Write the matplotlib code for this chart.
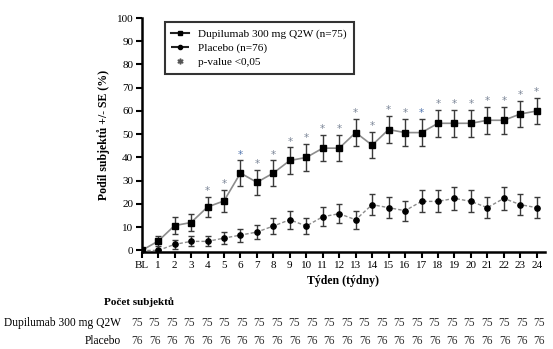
import numpy as np
import matplotlib.pyplot as plt
from matplotlib.lines import Line2D

plt.rcParams['font.family'] = ['Liberation Serif', 'DejaVu Serif']

weeks = ['BL'] + [str(i) for i in range(1, 25)]

dupi = [0, 4.0, 10.7, 12.0, 18.7, 21.3, 33.3, 29.3, 33.3, 38.7, 40.0, 44.0, 44.0,
        50.7, 45.3, 52.0, 50.7, 50.7, 54.7, 54.7, 54.7, 56.0, 56.0, 58.7, 60.0]
dupi_se = [0, 2.3, 3.6, 3.8, 4.5, 4.7, 5.4, 5.3, 5.4, 5.6, 5.7, 5.7, 5.7,
           5.8, 5.7, 5.8, 5.8, 5.8, 5.7, 5.7, 5.7, 5.7, 5.7, 5.7, 5.7]
plac = [0, 0, 2.6, 3.9, 3.9, 5.3, 6.6, 7.9, 10.5, 13.2, 10.5, 14.5, 15.8,
        13.2, 19.7, 18.4, 17.1, 21.1, 21.1, 22.4, 21.1, 18.4, 22.4, 19.7, 18.4]
plac_se = [0, 0, 1.8, 2.2, 2.2, 2.6, 2.8, 3.1, 3.5, 3.9, 3.5, 4.0, 4.2,
           3.9, 4.6, 4.4, 4.3, 4.7, 4.7, 4.8, 4.7, 4.4, 4.8, 4.6, 4.4]
signif = [4, 5, 6, 7, 8, 9, 10, 11, 12, 13, 14, 15, 16, 17, 18, 19, 20, 21, 22, 23, 24]

n_dupi = [75] * 24
n_plac = [76] * 24

x = np.arange(len(weeks))

fig = plt.figure(figsize=(5.53, 3.49), dpi=100)
ax = fig.add_axes([0.2562, 0.2771, 0.7293, 0.6713])

ax.errorbar(x, dupi, yerr=dupi_se, fmt='none', ecolor='#3a3a3a', elinewidth=1,
            capsize=2.5, capthick=1, zorder=2)
ax.errorbar(x, plac, yerr=plac_se, fmt='none', ecolor='#3a3a3a', elinewidth=1,
            capsize=2.5, capthick=1, zorder=2)
ax.plot(x, dupi, '-', color='#8c8c8c', lw=1.2, zorder=3)
ax.plot(x, dupi, 's', color='black', ms=5, zorder=4)
ax.plot(x, plac, '--', color='#8c8c8c', lw=1.0, dashes=(2.5, 1.5), zorder=3)
ax.plot(x, plac, 'o', color='black', ms=3.8, zorder=4)

for w in signif:
    col = '#5578b0' if w in (6, 17) else '#7d8798'
    ax.text(w, dupi[w] + dupi_se[w] + 0.4, '*', ha='center', va='bottom',
            fontsize=7.5, color=col, family='DejaVu Sans')

ax.set_xlim(0, 24.5)
ax.set_ylim(-0.8, 100)
ax.set_xticks(x)
ax.set_xticklabels(weeks)
ax.set_yticks(np.arange(0, 101, 10))
ax.tick_params(axis='both', direction='out', length=4, width=1.5, labelsize=8, pad=2)
for s in ['top', 'right']:
    ax.spines[s].set_visible(False)
for s in ['left', 'bottom']:
    ax.spines[s].set_linewidth(1.8)

ax.set_ylabel('Podíl subjektů +/- SE (%)', fontsize=8.5, fontweight='bold', labelpad=5)
ax.set_xlabel('Týden (týdny)', fontsize=8.5, fontweight='bold', labelpad=4)

handles = [
    Line2D([], [], color='#222222', ls='-', marker='s', mfc='black', mec='black', ms=3.5),
    Line2D([], [], color='#222222', ls='--', marker='o', mfc='black', mec='black', ms=3),
    Line2D([], [], color='#555555', ls='none', marker='$*$', ms=3.5),
]
leg = ax.legend(handles, ['Dupilumab 300 mg Q2W (n=75)', 'Placebo (n=76)', 'p-value <0,05'],
                loc='upper left', bbox_to_anchor=(0.043, 1.005), fontsize=8.1,
                fancybox=False, edgecolor='black', handlelength=1.6,
                labelspacing=0.35, borderpad=0.6, handletextpad=0.8)
leg.get_frame().set_linewidth(1.5)

# subject counts table
fig.text(139 / 553, 1 - 302 / 349, 'Počet subjektů', ha='center', va='center',
         fontsize=8, fontweight='bold')
fig.text(121 / 553, 1 - 323 / 349, 'Dupilumab 300 mg Q2W', ha='right', va='center', fontsize=8.3)
fig.text(121 / 553, 1 - 341 / 349, 'Placebo', ha='right', va='center', fontsize=8.3)
for i, (a, b) in enumerate(zip(n_dupi, n_plac)):
    xf = (137 + i * 17.5) / 553
    fig.text(xf, 1 - 323 / 349, str(a), ha='center', va='center', fontsize=8.3, color='#333333')
    fig.text(xf, 1 - 341 / 349, str(b), ha='center', va='center', fontsize=8.3, color='#333333')

fig.savefig('out.png', dpi=100)
